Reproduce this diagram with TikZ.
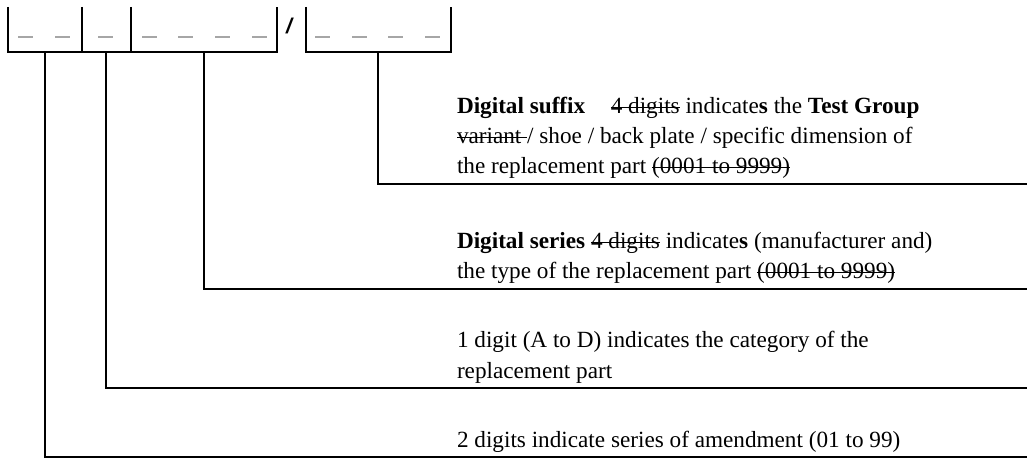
\documentclass[tikz,border=0pt]{standalone}
\usepackage{fontspec}
\setmainfont{Liberation Serif}
\newfontfamily\slashfont{Liberation Sans}
\newsavebox\strkbox
\newcommand{\strk}[1]{\sbox\strkbox{#1}\rlap{\rule[0.25em]{\wd\strkbox}{0.9pt}}\usebox\strkbox}
\begin{document}
\begin{tikzpicture}[x=0.75pt,y=-0.75pt,line width=1.5pt,
  txt/.style={anchor=base west,inner sep=0pt,font=\fontsize{17.4}{30}\selectfont},
  blank/.style={draw=gray!70,line width=1.1pt},
  lead/.style={draw=black,line width=1.5pt}]
\useasboundingbox (0,0) rectangle (1027,459);
% boxes
\draw (8,7) -- (8,52) -- (277,52) -- (277,7);
\draw (82,7) -- (82,52);
\draw (131,7) -- (131,52);
\draw (306,7) -- (306,52) -- (451,52) -- (451,7);
\node[inner sep=0pt,font=\slashfont\bfseries\itshape\fontsize{16}{16}\selectfont] (sl) at (289,26) {/};
% blanks
\foreach \a in {18,55,98,142,178,215,252,315,352,388,425}
  \draw[blank] (\a,37) -- ++(15,0);
% tick coordinates
\coordinate (t1) at (45,52);
\coordinate (t2) at (106,52);
\coordinate (t3) at (204,52);
\coordinate (t4) at (378,52);
\coordinate (e1) at (1030,457);
\coordinate (e2) at (1030,388);
\coordinate (e3) at (1030,289);
\coordinate (e4) at (1030,184);
\draw[lead] (t1) |- (e1);
\draw[lead] (t2) |- (e2);
\draw[lead] (t3) |- (e3);
\draw[lead] (t4) |- (e4);
% texts
\node[txt] (s1) at (456,114) {\textbf{Digital suffix}\hspace{1.1em}\strk{4 digits} indicate\textbf{s} the \textbf{Test Group}};
\node[txt] (s2) at (456,144) {\strk{variant\ }/ shoe / back plate / specific dimension of};
\node[txt] (s3) at (456,174) {the replacement part \strk{(0001 to 9999)}};
\node[txt] (r1) at (456,249) {\textbf{Digital series} \strk{4 digits} indicate\textbf{s} (manufacturer and)};
\node[txt] (r2) at (456,279) {the type of the replacement part \strk{(0001 to 9999)}};
\node[txt] (c1) at (456,348) {1 digit (A to D) indicates the category of the};
\node[txt] (c2) at (456,378) {replacement part};
\node[txt] (a1) at (456,447) {2 digits indicate series of amendment (01 to 99)};
\end{tikzpicture}
\end{document}
